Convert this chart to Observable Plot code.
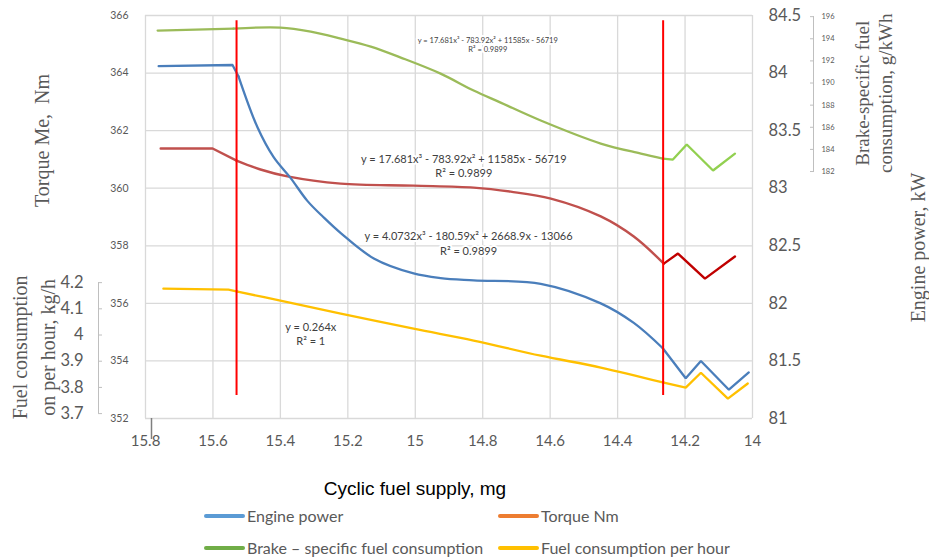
<!DOCTYPE html>
<html>
<head>
<meta charset="utf-8">
<script src="https://cdn.jsdelivr.net/npm/d3@7"></script>
<script src="https://cdn.jsdelivr.net/npm/@observablehq/plot@0.6"></script>
<style>
  html, body { margin: 0; padding: 0; background: #fff; overflow: hidden; }
  #wrap { position: relative; width: 929px; height: 558px; }
  .lg { position: absolute; height: 16px; line-height: 16px; font-family: Lato, sans-serif; font-size: 16px; color: #595959; white-space: nowrap; display: flex; align-items: center; }
  .sw { display: inline-block; width: 41px; height: 4px; border-radius: 2px; margin-right: 2px; }
</style>
</head>
<body>
<div id="wrap">
  <div id="chart"></div>
  <div class="lg" style="left:204px;top:508px"><span class="sw" style="background:#5b9bd5"></span>Engine power</div>
  <div class="lg" style="left:498px;top:508px"><span class="sw" style="background:#ed7d31"></span>Torque Nm</div>
  <div class="lg" style="left:204px;top:540px"><span class="sw" style="background:#70ad47"></span>Brake – specific fuel consumption</div>
  <div class="lg" style="left:498px;top:540px"><span class="sw" style="background:#ffc000"></span>Fuel consumption per hour</div>
</div>
<script>
// ---- tick labels ----
const supplyTicks = [15.8, 15.6, 15.4, 15.2, 15, 14.8, 14.6, 14.4, 14.2, 14];
const torqueTicks = [352, 354, 356, 358, 360, 362, 364, 366];
const powerTicks = [81, 81.5, 82, 82.5, 83, 83.5, 84, 84.5];
const bsfcTicks = [182, 184, 186, 188, 190, 192, 194, 196];
const fuelTicks = [3.7, 3.8, 3.9, 4, 4.1, 4.2];

// ---- series (x = cyclic fuel supply, mg) ----
const powerX = [15.761, 15.542, 15.524, 15.468, 15.420, 15.370, 15.320, 15.273, 15.221, 15.123, 15.005, 14.925, 14.827, 14.628, 14.450, 14.352, 14.266, 14.198, 14.153, 14.070, 14.011];
const powerKW = [84.06, 84.07, 83.97, 83.53, 83.27, 83.09, 82.89, 82.75, 82.61, 82.39, 82.26, 82.22, 82.20, 82.17, 82.00, 81.83, 81.61, 81.35, 81.50, 81.25, 81.40];

const torqueX = [15.755, 15.601, 15.530, 15.459, 15.379, 15.221, 15.005, 14.827, 14.717, 14.598, 14.450, 14.352, 14.263, 14.221, 14.141, 14.052];
const torqueNm = [361.38, 361.38, 360.96, 360.65, 360.41, 360.16, 360.09, 360.02, 359.88, 359.64, 359.02, 358.32, 357.38, 357.73, 356.86, 357.63];

const bsfcX = [15.764, 15.539, 15.400, 15.310, 15.221, 15.132, 15.043, 14.925, 14.827, 14.747, 14.628, 14.450, 14.331, 14.266, 14.236, 14.195, 14.117, 14.052];
const bsfcG = [194.74, 194.92, 195.01, 194.64, 194.01, 193.29, 192.30, 190.85, 189.32, 188.23, 186.61, 184.53, 183.62, 183.17, 183.08, 184.44, 182.09, 183.62];

const fuelX = [15.747, 15.554, 15.527, 15.400, 15.221, 15.005, 14.827, 14.628, 14.450, 14.263, 14.198, 14.153, 14.073, 14.014];
const fuelKgH = [4.177, 4.173, 4.166, 4.131, 4.082, 4.024, 3.979, 3.921, 3.876, 3.818, 3.799, 3.856, 3.757, 3.815];

// red marker lines (x) and their vertical extent (torque units)
const markerX = [15.53, 14.265];
const markerSpan = [352.8, 365.82];
const fitStart = 15.542;
const fitEnd = 14.263;

// secondary axes aligned to the torque scale
const powerToTorque = d3.scaleLinear([81, 84.5], [352, 366]);
const bsfcToTorque = d3.scaleLinear([182, 196], [360.58, 365.96]);
const fuelToTorque = d3.scaleLinear([3.7, 4.2], [352.17, 356.72]);

// trendline annotations (positioned in data units)
const equations = [
  {x: 14.785, y: 365.0, text: "y = 17.681x³ - 783.92x² + 11585x - 56719\nR² = 0.9899", size: 7.5},
  {x: 14.856, y: 360.79, text: "y = 17.681x³ - 783.92x² + 11585x - 56719\nR² = 0.9899", size: 11},
  {x: 14.842, y: 358.10, text: "y = 4.0732x³ - 180.59x² + 2668.9x - 13066\nR² = 0.9899", size: 11},
  {x: 15.31, y: 354.95, text: "y = 0.264x\nR² = 1", size: 11}
];

const mk = (xs, ys, f) => xs.map((x, i) => ({x, v: f(ys[i])}));
const power = mk(powerX, powerKW, powerToTorque);
const torque = mk(torqueX, torqueNm, d => d);
const bsfc = mk(bsfcX, bsfcG, bsfcToTorque);
const fuel = mk(fuelX, fuelKgH, fuelToTorque);

const fmt = v => String(Math.round(v * 100) / 100);
const grey = "#595959";

// three pieces per series: plateau (linear), fitted trend (smooth), raw tail (linear)
function seriesMarks(rows, fitColor, tailColor, w) {
  const head = rows.filter(d => d.x >= fitStart - 0.02);
  const firstFit = head.length ? head[head.length - 1].x : fitStart;
  const mid = rows.filter(d => d.x <= firstFit && d.x >= fitEnd - 0.004);
  const tail = rows.filter(d => d.x <= fitEnd + 0.004);
  return [
    Plot.line(head, {x: "x", y: "v", stroke: fitColor, strokeWidth: w}),
    Plot.line(mid, {x: "x", y: "v", stroke: fitColor, strokeWidth: w, curve: "catmull-rom"}),
    Plot.line(tail, {x: "x", y: "v", stroke: tailColor, strokeWidth: w, strokeLinejoin: "miter"})
  ];
}

const serif = "Liberation Serif";

const chart = Plot.plot({
  width: 929,
  height: 500,
  marginLeft: 145,
  marginRight: 177,
  marginTop: 15,
  marginBottom: 82,
  x: {domain: [15.8, 14]},
  y: {domain: [352, 366]},
  style: {fontFamily: "Lato, sans-serif", background: "#fff", overflow: "visible"},
  marks: [
    Plot.gridX(supplyTicks, {stroke: "#d9d9d9", strokeOpacity: 1, strokeWidth: 1.3}),
    Plot.gridY(torqueTicks, {stroke: "#d9d9d9", strokeOpacity: 1, strokeWidth: 1.3}),
    // x axis
    Plot.axisX(supplyTicks, {tickSize: 0, tickPadding: 17, fontSize: 15, fill: grey, label: null, tickFormat: d => String(d)}),
    Plot.ruleX([15.8], {y1: 352, y2: 351.27, dx: 6, stroke: "#7f7f7f", strokeWidth: 1.5}),
    // torque axis (left)
    Plot.axisY(torqueTicks, {anchor: "left", tickSize: 0, tickPadding: 17, fontSize: 10.5, fill: grey, label: null}),
    // engine power axis (right)
    Plot.axisY(powerTicks.map(powerToTorque), {anchor: "right", tickSize: 0, tickPadding: 16, fontSize: 16.5, fill: grey, label: null, tickFormat: d => fmt(powerToTorque.invert(d))}),
    // BSFC axis (far right, partial)
    Plot.axisY(bsfcTicks.map(bsfcToTorque), {anchor: "right", dx: 57, tickSize: 4, tickPadding: 8, fontSize: 7.5, fill: grey, stroke: "#bfbfbf", label: null, tickFormat: d => fmt(bsfcToTorque.invert(d))}),
    Plot.ruleX([14], {y1: bsfcToTorque(182), y2: bsfcToTorque(196), dx: 61, stroke: "#bfbfbf"}),
    // fuel per hour axis (far left, partial)
    Plot.axisY(fuelTicks.map(fuelToTorque), {anchor: "left", dx: -43, tickSize: 4, tickPadding: 15, fontSize: 16.5, fill: grey, stroke: "#bfbfbf", label: null, tickFormat: d => fmt(fuelToTorque.invert(d))}),
    Plot.ruleX([15.8], {y1: fuelToTorque(3.7), y2: fuelToTorque(4.2), dx: -47, stroke: "#bfbfbf"}),
    // series
    ...seriesMarks(bsfc, "#9bbb59", "#92d050", 2.3),
    ...seriesMarks(torque, "#c0504d", "#c00000", 2.4),
    ...seriesMarks(power, "#4a7ebb", "#4a7ebb", 2.3),
    ...seriesMarks(fuel, "#ffc000", "#ffc000", 2.3),
    // equations
    Plot.text(equations, {x: "x", y: "y", text: "text", fontSize: d => d.size, fill: "#404040", stroke: "#fff", strokeWidth: 4, lineHeight: 1.3}),
    // marker lines
    Plot.ruleX(markerX, {y1: markerSpan[0], y2: markerSpan[1], stroke: "#ff0000", strokeWidth: 2}),
    // axis titles
    Plot.text(["Torque Me,  Nm"], {frameAnchor: "left", textAnchor: "middle", y: [361.66], dx: -103, rotate: -90, fontSize: 20, fontFamily: serif, fill: grey}),
    Plot.text(["Fuel consumption\non per hour, kg/h"], {frameAnchor: "left", textAnchor: "middle", y: [354.47], dx: -113, rotate: -90, fontSize: 20, fontFamily: serif, fill: grey, lineHeight: 1.4}),
    Plot.text(["Brake-specific fuel\nconsumption, g/kWh"], {frameAnchor: "right", textAnchor: "middle", y: [363.3], dx: 121, rotate: -90, fontSize: 19, fontFamily: serif, fill: grey, lineHeight: 1.2}),
    Plot.text(["Engine power, kW"], {frameAnchor: "right", textAnchor: "middle", y: [357.94], dx: 166, rotate: -90, fontSize: 20, fontFamily: serif, fill: grey}),
    Plot.text(["Cyclic fuel supply, mg"], {frameAnchor: "bottom", textAnchor: "middle", dx: -34, dy: 76, fontSize: 19, fontFamily: "Liberation Sans", fill: "#000"})
  ]
});
document.getElementById("chart").appendChild(chart);
</script>
</body>
</html>
